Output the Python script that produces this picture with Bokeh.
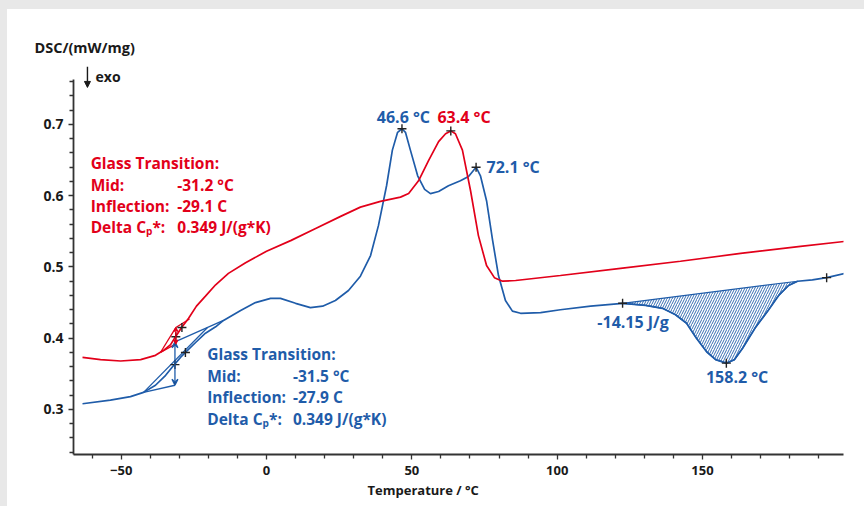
import numpy as np
from bokeh.plotting import figure
from bokeh.models import Label, Arrow, NormalHead, VeeHead, FixedTicker, Spacer, Title
from bokeh.layouts import row, column
from bokeh.core.properties import value
from bokeh.embed import file_html
from bokeh.resources import INLINE

# ---------------- data ----------------
red_T = [-63.3, -57.1, -50.2, -43.3, -38.2, -35.4, -33.0, -31.3, -29.2, -26.8, -24.1, -21.0,
         -17.5, -13.1, -7.2, 0.0, 8.3, 16.9, 25.5, 32.3, 39.2, 46.1, 48.9, 52.3, 55.7, 59.2,
         61.6, 63.4, 65.0, 67.4, 70.2, 72.9, 75.7, 78.4, 81.2, 85.7, 101.1, 121.8, 142.4,
         163.1, 183.7, 199.2]
red_D = [0.373, 0.370, 0.368, 0.370, 0.376, 0.383, 0.391, 0.402, 0.415, 0.428, 0.445, 0.459,
         0.475, 0.491, 0.506, 0.522, 0.537, 0.554, 0.571, 0.584, 0.592, 0.598, 0.603, 0.621,
         0.649, 0.676, 0.687, 0.691, 0.687, 0.664, 0.607, 0.544, 0.502, 0.485, 0.480, 0.481,
         0.488, 0.498, 0.508, 0.519, 0.529, 0.536]

blue_T = [-63.3, -53.7, -46.8, -42.3, -38.2, -34.7, -31.7, -29.6, -27.9, -24.4, -21.0, -17.5,
          -14.8, -8.9, -3.8, 1.4, 4.8, 10.0, 15.1, 19.3, 23.7, 28.2, 32.3, 35.8, 38.5, 41.3,
          43.3, 45.1, 46.6, 47.8, 49.5, 52.0, 54.4, 56.4, 59.2, 62.6, 66.7, 69.5, 72.1, 73.6,
          75.7, 77.8, 79.8, 82.2, 84.6, 87.4, 94.3, 101.1, 111.5, 122.5, 130.4, 136.2, 140.7,
          144.5, 147.9, 151.4, 154.5, 158.2, 161.0, 163.8, 168.2, 172.4, 176.2, 179.6, 182.7,
          187.8, 192.7, 199.2]
blue_D = [0.308, 0.313, 0.318, 0.324, 0.334, 0.348, 0.363, 0.373, 0.380, 0.394, 0.407, 0.416,
          0.425, 0.439, 0.450, 0.456, 0.456, 0.449, 0.443, 0.445, 0.453, 0.467, 0.487, 0.516,
          0.558, 0.614, 0.664, 0.689, 0.694, 0.689, 0.664, 0.628, 0.609, 0.603, 0.606, 0.614,
          0.621, 0.627, 0.640, 0.628, 0.593, 0.537, 0.488, 0.453, 0.438, 0.435, 0.436, 0.440,
          0.445, 0.449, 0.446, 0.442, 0.433, 0.421, 0.400, 0.381, 0.370, 0.365, 0.370, 0.386,
          0.415, 0.438, 0.460, 0.474, 0.480, 0.482, 0.485, 0.491]

# evaluated points (crosses)
cross_T = [46.6, 63.4, 72.1, 122.5, 158.2, 192.7, -31.2, -29.1, -31.5, -27.9]
cross_D = [0.694, 0.691, 0.640, 0.449, 0.365, 0.485, 0.402, 0.415, 0.363, 0.380]

# peak area integration limits
area_T0, area_T1 = 122.5, 182.7

# glass transition construction lines
blue_gt_lines_T = [[-42.3, -31.5], [-42.3, -20.3], [-31.5, -14.8]]
blue_gt_lines_D = [[0.324, 0.334], [0.324, 0.415], [0.395, 0.425]]
red_gt_lines_T = [[-36.5, -31.2], [-36.5, -31.2], [-31.2, -26.5]]
red_gt_lines_D = [[0.380, 0.392], [0.380, 0.415], [0.415, 0.427]]
blue_gt_step = (-31.5, 0.334, 0.395)
red_gt_step = (-31.2, 0.392, 0.415)

red_labels = ["Glass Transition:", "Mid:", "Inflection:", "Delta C\u209a*:"]
red_values = ["-31.2 \u00b0C", "-29.1 C", "0.349 J/(g*K)"]
blue_labels = ["Glass Transition:", "Mid:", "Inflection:", "Delta C\u209a*:"]
blue_values = ["-31.5 \u00b0C", "-27.9 C", "0.349 J/(g*K)"]

x_major = [-50, 0, 50, 100, 150]
x_minor = [-60, -40, -30, -20, -10, 10, 20, 30, 40, 60, 70, 80, 90, 110, 120, 130, 140, 160, 170, 180, 190]
y_major = [0.3, 0.4, 0.5, 0.6, 0.7]
y_minor = [0.24, 0.26, 0.28, 0.32, 0.34, 0.36, 0.38, 0.42, 0.44, 0.46, 0.48, 0.52, 0.54, 0.56,
           0.58, 0.62, 0.64, 0.66, 0.68, 0.72, 0.74, 0.76]
y_axis_bounds = (0.2368, 0.7632)

RED = "#e2001a"
BLUE = "#1f5ca9"
FONT = "Open Sans"
INK = "#1a1a1a"

# ---------------- figure ----------------
p = figure(width=857, height=497, x_range=(-66.4, 198.5), y_range=(0.2368, 0.7926),
           output_backend="svg", toolbar_location=None,
           min_border_left=66, min_border_right=21, min_border_top=49, min_border_bottom=52)
p.outline_line_color = None
p.grid.visible = False
p.background_fill_color = "white"
p.border_fill_color = "white"

p.title.text = "DSC/(mW/mg)"
p.title.align = "left"
p.title.offset = -39
p.title.standoff = 4
p.title.text_font = FONT
p.title.text_font_style = "bold"
p.title.text_font_size = "14.5px"
p.title.text_color = INK

for ax in (p.xaxis[0], p.yaxis[0]):
    ax.axis_line_color = "#333333"
    ax.axis_line_width = 1.8
    ax.major_tick_line_color = "#333333"
    ax.minor_tick_line_color = "#333333"
    ax.major_tick_line_width = 1.3
    ax.minor_tick_line_width = 1.3
    ax.major_tick_in = 0
    ax.minor_tick_in = 0
    ax.major_tick_out = 5
    ax.minor_tick_out = 4
    ax.major_label_text_font = FONT
    ax.major_label_text_font_style = "bold"
    ax.major_label_text_color = INK

p.yaxis[0].bounds = y_axis_bounds
p.xaxis[0].ticker = FixedTicker(ticks=x_major, minor_ticks=x_minor)
p.yaxis[0].ticker = FixedTicker(ticks=y_major, minor_ticks=y_minor)
p.xaxis[0].major_label_text_font_size = "13px"
p.yaxis[0].major_label_text_font_size = "14px"
p.xaxis[0].major_label_standoff = 6
p.yaxis[0].major_label_standoff = 5

p.add_layout(Title(text="Temperature / \u00b0C", align="left", offset=294, standoff=2,
                   text_font=FONT, text_font_style="bold", text_font_size="13px",
                   text_color=INK), "below")

# hatched peak area
aT = [t for t in blue_T if area_T0 <= t <= area_T1]
aD = [d for t, d in zip(blue_T, blue_D) if area_T0 <= t <= area_T1]
p.patch(aT, aD, fill_alpha=0, line_color=BLUE, line_width=1.2,
        hatch_pattern="/", hatch_color=BLUE, hatch_scale=5, hatch_weight=0.9)

# construction lines
p.multi_line(blue_gt_lines_T, blue_gt_lines_D, line_color=BLUE, line_width=1.3)
p.multi_line(red_gt_lines_T, red_gt_lines_D, line_color=RED, line_width=1.3)
p.add_layout(Arrow(x_start=blue_gt_step[0], y_start=blue_gt_step[1], x_end=blue_gt_step[0], y_end=blue_gt_step[2],
                   line_color=BLUE, line_width=1.3,
                   start=VeeHead(size=6, line_color=BLUE, line_width=1.3),
                   end=VeeHead(size=6, line_color=BLUE, line_width=1.3)))
p.add_layout(Arrow(x_start=red_gt_step[0], y_start=red_gt_step[1], x_end=red_gt_step[0], y_end=red_gt_step[2],
                   line_color=RED, line_width=1.3,
                   start=VeeHead(size=4, line_color=RED, line_width=1.2),
                   end=VeeHead(size=4, line_color=RED, line_width=1.2)))

# curves
p.line(blue_T, blue_D, line_color=BLUE, line_width=1.7)
p.line(red_T, red_D, line_color=RED, line_width=1.7)

# crosses
p.scatter(cross_T, cross_D, marker="cross", size=9, line_color="#222222", line_width=1.4)

# ---------------- texts ----------------
step = 0.0300
TS = "15.5px"
rl_y = [0.6457 - i * step for i in range(4)]
p.text([-60.5] * 4, rl_y, text=red_labels, text_color=RED, text_font=value(FONT),
       text_font_style="bold", text_font_size=TS, text_baseline="middle")
p.text([-30.7] * 3, rl_y[1:], text=red_values, text_color=RED, text_font=value(FONT),
       text_font_style="bold", text_font_size=TS, text_baseline="middle")

bl_y = [0.3772 - i * step for i in range(4)]
p.text([-20.4] * 4, bl_y, text=blue_labels, text_color=BLUE, text_font=value(FONT),
       text_font_style="bold", text_font_size=TS, text_baseline="middle")
p.text([9.1] * 3, bl_y[1:], text=blue_values, text_color=BLUE, text_font=value(FONT),
       text_font_style="bold", text_font_size=TS, text_baseline="middle")

peak_text = ["46.6 \u00b0C", "72.1 \u00b0C", "-14.15 J/g", "158.2 \u00b0C"]
peak_x = [47.1, 75.7, 126.1, 161.9]
peak_y = [0.710, 0.640, 0.4225, 0.3453]
peak_align = ["center", "left", "center", "center"]
p.text(peak_x, peak_y, text=peak_text, text_align=peak_align, text_color=BLUE, text_font=value(FONT),
       text_font_style="bold", text_font_size="16px", text_baseline="middle")
p.text([58.8], [0.710], text=["63.4 \u00b0C"], text_align="left", text_color=RED, text_font=value(FONT),
       text_font_style="bold", text_font_size="16px", text_baseline="middle")

# exo marker (inside the extended frame, above the axis bounds)
p.text([-58.8], [0.7675], text=["exo"], text_color=INK, text_font=value(FONT),
       text_font_style="bold", text_font_size="14px", text_baseline="middle")
p.add_layout(Arrow(x_start=-61.6, y_start=0.781, x_end=-61.6, y_end=0.752, line_color=INK,
                   line_width=1.4, end=NormalHead(size=6, fill_color=INK, line_color=INK)))

GRAY = "#e8e8e8"
left = Spacer(width=7, height=506, styles={"background-color": GRAY})
top = Spacer(width=857, height=9, styles={"background-color": GRAY})
layout = row(left, column(top, p))

open("out.html", "w").write(file_html(layout, INLINE))
